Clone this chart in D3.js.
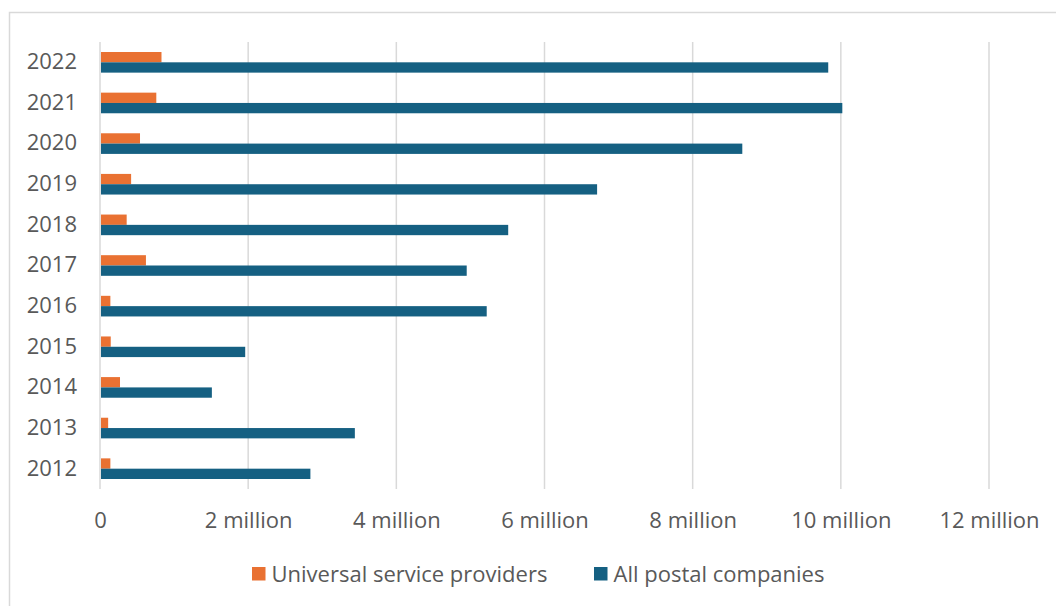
<!DOCTYPE html>
<html>
<head>
<meta charset="utf-8">
<script src="https://cdn.jsdelivr.net/npm/d3@7"></script>
<style>
  html, body { margin: 0; padding: 0; background: #fff; }
  svg { display: block; }
  text { font-family: "Open Sans", sans-serif; fill: #595959; }
</style>
</head>
<body>
<svg id="chart" width="1056" height="606"></svg>
<script>
const years = ["2022","2021","2020","2019","2018","2017","2016","2015","2014","2013","2012"];
const seriesNames = ["Universal service providers", "All postal companies"];
const universalValues = [830000, 760000, 540000, 420000, 360000, 620000, 140000, 145000, 270000, 110000, 140000];
const allPostalValues = [9830000, 10020000, 8670000, 6710000, 5510000, 4950000, 5220000, 1960000, 1510000, 3440000, 2840000];
const xTicks = [0, 2e6, 4e6, 6e6, 8e6, 10e6, 12e6];
const xTickLabels = ["0", "2 million", "4 million", "6 million", "8 million", "10 million", "12 million"];
const colors = ["#E97132", "#156082"];

const svg = d3.select("#chart");

// frame
svg.append("rect")
  .attr("x", 9.5).attr("y", 12.5)
  .attr("width", 1100).attr("height", 700)
  .attr("fill", "none").attr("stroke", "#d9d9d9").attr("stroke-width", 1.5);

const x = d3.scaleLinear().domain([0, 12e6]).range([100, 989]);
const y = d3.scaleBand().domain(years).range([42, 489]).paddingInner(0).paddingOuter(0);
const inner = d3.scaleBand().domain(seriesNames).range([0, y.bandwidth()]).paddingInner(0).paddingOuter(0.97);

// gridlines
svg.append("g").selectAll("line").data(xTicks).join("line")
  .attr("x1", d => x(d)).attr("x2", d => x(d))
  .attr("y1", 42).attr("y2", 489)
  .attr("stroke", "#d9d9d9").attr("stroke-width", 1.5);

// bars
const data = years.map((yr, i) => ({ year: yr, values: [universalValues[i], allPostalValues[i]] }));
const groups = svg.append("g").selectAll("g").data(data).join("g")
  .attr("transform", d => `translate(0,${y(d.year)})`);
groups.selectAll("rect").data(d => d.values.map((v, j) => ({ v, s: seriesNames[j], c: colors[j] }))).join("rect")
  .attr("x", x(0) + 1)
  .attr("y", d => inner(d.s))
  .attr("width", d => x(d.v) - x(0) - 1)
  .attr("height", inner.bandwidth())
  .attr("fill", d => d.c);

// y labels
svg.append("g").selectAll("text").data(years).join("text")
  .attr("x", 77).attr("y", d => y(d) + y.bandwidth() / 2 - 1)
  .attr("dy", "0.357em")
  .attr("text-anchor", "end")
  .attr("font-size", 22)
  .text(d => d);

// x tick labels
const xAxis = d3.axisBottom(x).tickValues(xTicks).tickSize(0).tickPadding(0)
  .tickFormat((d, i) => xTickLabels[i]);
const gx = svg.append("g").attr("transform", "translate(0,0)").call(xAxis);
gx.select(".domain").remove();
gx.selectAll("text")
  .attr("y", 520.5).attr("dy", "0.357em")
  .attr("font-size", 22)
  .style("font-family", "'Open Sans', sans-serif")
  .attr("fill", "#595959");

// legend
const legendItems = [
  { name: seriesNames[0], color: colors[0], x: 252 },
  { name: seriesNames[1], color: colors[1], x: 594 }
];
const lg = svg.append("g").selectAll("g").data(legendItems).join("g")
  .attr("transform", d => `translate(${d.x},0)`);
lg.append("rect").attr("x", 0).attr("y", 567).attr("width", 13.5).attr("height", 13.5).attr("fill", d => d.color);
lg.append("text").attr("x", 19.5).attr("y", 574).attr("dy", "0.357em")
  .attr("font-size", 22).text(d => d.name);
</script>
</body>
</html>
